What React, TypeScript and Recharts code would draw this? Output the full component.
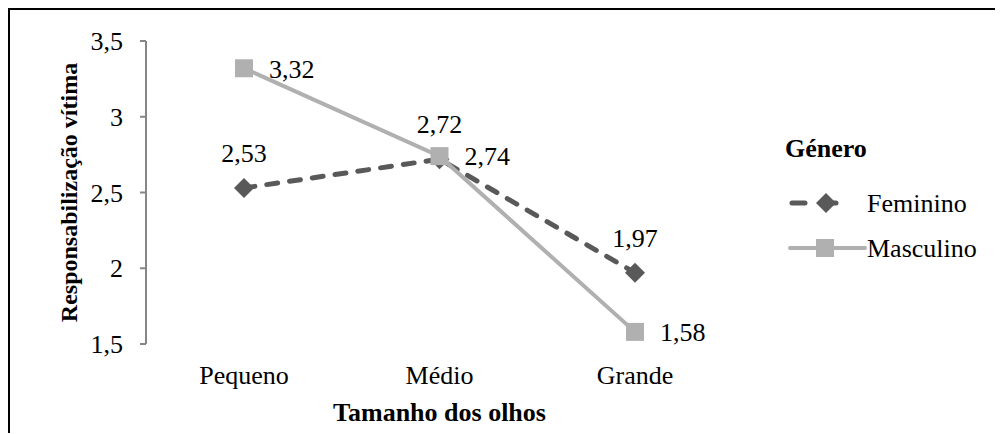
import React from 'react';
import { LineChart, Line, XAxis, YAxis, LabelList, Legend } from 'recharts';

const categories = ['Pequeno', 'Médio', 'Grande'];
const femininoValues = [2.53, 2.72, 1.97];
const masculinoValues = [3.32, 2.74, 1.58];
const yTicks = [1.5, 2, 2.5, 3, 3.5];
const boundaryTicks = [0, 1, 2, 3];
const legendTitle = 'Género';
const xTitle = 'Tamanho dos olhos';
const yTitle = 'Responsabilização vítima';

const data = categories.map((c, i) => ({
  cat: c,
  Feminino: femininoValues[i],
  Masculino: masculinoValues[i],
}));

const FONT = 'Liberation Serif, DejaVu Serif, serif';
const AXIS = '#868686';
const DARK = '#595959';
const LIGHT = '#b0b0b0';

const fmt = (v: any) => (typeof v === 'number' ? v.toFixed(2).replace('.', ',') : v);

const Diamond = (props: any) => {
  const { cx, cy } = props;
  if (cx == null || cy == null) return null;
  const r = 10;
  return <path d={`M${cx},${cy - r}L${cx + r},${cy}L${cx},${cy + r}L${cx - r},${cy}Z`} fill={DARK} />;
};

const Square = (props: any) => {
  const { cx, cy } = props;
  if (cx == null || cy == null) return null;
  const s = 18;
  return <rect x={cx - s / 2} y={cy - s / 2} width={s} height={s} fill={LIGHT} />;
};

const LegendContent = () => (
  <svg width={233} height={160} style={{ overflow: 'visible' }}>
    <text x={15} y={37} fontSize={26} fontWeight="bold" fill="#000" fontFamily={FONT}>{legendTitle}</text>
    <line x1={20} y1={83} x2={82} y2={83} stroke={DARK} strokeWidth={5} strokeDasharray="13 18" strokeDashoffset={-2} strokeLinecap="round" />
    <path d="M56,73L66,83L56,93L46,83Z" fill={DARK} />
    <text x={97} y={92} fontSize={26} fill="#000" fontFamily={FONT}>Feminino</text>
    <line x1={20} y1={128} x2={95} y2={128} stroke={LIGHT} strokeWidth={4} strokeLinecap="round" />
    <rect x={46} y={119} width={18} height={18} fill={LIGHT} />
    <text x={97} y={137} fontSize={26} fill="#000" fontFamily={FONT}>Masculino</text>
  </svg>
);

export default function App() {
  return (
    <div
      style={{
        width: 995,
        height: 426,
        marginTop: -1,
        marginLeft: -1,
        borderTop: '3px solid #000',
        borderLeft: '3px solid #000',
        boxSizing: 'border-box',
        fontFamily: FONT,
        background: '#fff',
      }}
    >
      <LineChart width={992} height={423} data={data} margin={{ top: 31, right: 269, bottom: 0, left: 0 }} style={{ fontFamily: FONT }}>
        <XAxis
          xAxisId={0}
          type="number"
          domain={[0, 3]}
          ticks={boundaryTicks}
          allowDataOverflow
          height={0}
          tickSize={6}
          tickFormatter={() => ''}
          axisLine={{ stroke: AXIS, strokeWidth: 2 }}
          tickLine={{ stroke: AXIS, strokeWidth: 2 }}
        />
        <XAxis
          xAxisId="cat"
          dataKey="cat"
          type="category"
          padding={{ left: 98, right: 98 }}
          height={89}
          axisLine={false}
          tickLine={false}
          tickSize={0}
          tickMargin={22}
          tick={{ fill: '#000', fontSize: 26, fontFamily: FONT }}
          label={{ value: xTitle, position: 'insideBottom', offset: 12, fill: '#000', fontSize: 26, fontWeight: 'bold', fontFamily: FONT }}
        />
        <YAxis
          domain={[1.5, 3.5]}
          ticks={yTicks}
          width={136}
          tickSize={6}
          tickMargin={17}
          tickFormatter={(v: number) => String(v).replace('.', ',')}
          axisLine={{ stroke: AXIS, strokeWidth: 2 }}
          tickLine={{ stroke: AXIS, strokeWidth: 2 }}
          tick={{ fill: '#000', fontSize: 26, fontFamily: FONT }}
          label={{
            value: yTitle,
            angle: -90,
            position: 'insideLeft',
            offset: 58,
            fill: '#000',
            fontSize: 24,
            fontWeight: 'bold',
            fontFamily: FONT,
            style: { textAnchor: 'middle' },
          }}
        />
        <Legend
          layout="vertical"
          align="center"
          verticalAlign="middle"
          content={<LegendContent />}
          wrapperStyle={{ left: 760, top: 110, width: 233, height: 160 }}
        />
        <Line
          xAxisId="cat"
          dataKey="Feminino"
          stroke={DARK}
          strokeWidth={5}
          strokeDasharray="11 12"
          strokeLinecap="round"
          dot={<Diamond />}
          activeDot={false}
          isAnimationActive={false}
        >
          <LabelList dataKey="Feminino" position="top" offset={26} formatter={fmt} fill="#000" fontSize={26} fontFamily={FONT} />
        </Line>
        <Line
          xAxisId="cat"
          dataKey="Masculino"
          stroke={LIGHT}
          strokeWidth={4}
          dot={<Square />}
          activeDot={false}
          isAnimationActive={false}
        >
          <LabelList dataKey="Masculino" position="right" offset={25} formatter={fmt} fill="#000" fontSize={26} fontFamily={FONT} />
        </Line>
      </LineChart>
    </div>
  );
}
